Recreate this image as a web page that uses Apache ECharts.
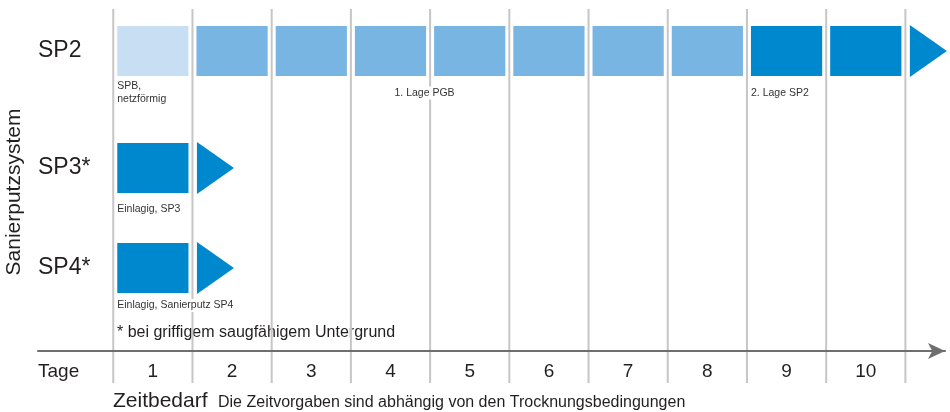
<!DOCTYPE html>
<html>
<head>
<meta charset="utf-8">
<script src="https://cdn.jsdelivr.net/npm/echarts@6/dist/echarts.min.js"></script>
<style>
  html, body { margin: 0; padding: 0; background: #fff; }
  #chart { width: 950px; height: 412px; }
</style>
</head>
<body>
<div id="chart"></div>
<script>
// Daten
var days = [1, 2, 3, 4, 5, 6, 7, 8, 9, 10];
var systems = ['SP2', 'SP3*', 'SP4*'];
// Schicht, die an jedem Tag aufgetragen wird
var sp2Layers = ['SPB', 'PGB', 'PGB', 'PGB', 'PGB', 'PGB', 'PGB', 'PGB', 'SP2', 'SP2'];
var sp3Layers = ['SP3'];
var sp4Layers = ['SP4'];
// Beschriftungen unter den Balken: [Position in Tagen, Text]
var sp2Notes = [[0, 'SPB,\nnetzförmig'], [3.5, '1. Lage PGB'], [8, '2. Lage SP2']];
var sp3Notes = [[0, 'Einlagig, SP3']];
var sp4Notes = [[0, 'Einlagig, Sanierputz SP4']];
var footnote = '* bei griffigem saugfähigem Untergrund';
var axisName = 'Tage';
var yName = 'Sanierputzsystem';
var caption = 'Zeitbedarf';
var captionNote = 'Die Zeitvorgaben sind abhängig von den Trocknungsbedingungen';

// Stil
var font = '"Liberation Sans", Arial, Helvetica, sans-serif';
var textColor = '#231f20';
var layerColors = { SPB: '#c8def2', PGB: '#79b5e3', SP2: '#0088cf', SP3: '#0088cf', SP4: '#0088cf' };
var arrowColor = '#0088cf';
var X_MIN = -0.95, X_MAX = 10.5;

var rows = [
    { name: systems[0], layers: sp2Layers, notes: sp2Notes, top: 26, noteGap: 17 },
    { name: systems[1], layers: sp3Layers, notes: sp3Notes, top: 143, noteGap: 16.5 },
    { name: systems[2], layers: sp4Layers, notes: sp4Notes, top: 243, noteGap: 12.5 }
];

var grids = [{ left: 38, right: 5, top: 9, bottom: 29 }];
var xAxes = [{ gridIndex: 0, type: 'value', min: X_MIN, max: X_MAX, show: false }];
var yAxes = [{ gridIndex: 0, type: 'value', min: 0, max: 1, show: false }];
var series = [];

// senkrechte Tageslinien
series.push({
    type: 'custom',
    xAxisIndex: 0,
    yAxisIndex: 0,
    z: 1,
    silent: true,
    data: [0].concat(days).map(function (d) { return [d, 0]; }),
    renderItem: function (params, api) {
        var top = api.coord([api.value(0), 1]);
        var bottom = api.coord([api.value(0), 0]);
        return {
            type: 'line',
            shape: { x1: top[0], y1: top[1], x2: bottom[0], y2: bottom[1] },
            style: { stroke: '#c6c6c6', lineWidth: 2 }
        };
    }
});

rows.forEach(function (row, r) {
    var gi = r + 1;
    grids.push({ left: 38, right: 5, top: row.top, height: 50 });
    xAxes.push({ gridIndex: gi, type: 'value', min: X_MIN, max: X_MAX, show: false });
    yAxes.push({
        gridIndex: gi,
        type: 'category',
        data: [row.name],
        axisLine: { show: false },
        axisTick: { show: false },
        splitLine: { show: false },
        axisLabel: { inside: true, margin: 0, fontSize: 23, color: textColor, fontFamily: font }
    });

    var cells = row.layers.map(function (l, i) { return [i + 1, 0]; });
    cells.push([row.layers.length + 1, 0]); // Pfeil
    series.push({
        type: 'custom',
        xAxisIndex: gi,
        yAxisIndex: gi,
        z: 3,
        silent: true,
        data: cells,
        renderItem: function (params, api) {
            var day = api.value(0);
            var left = api.coord([day - 1, 0])[0];
            var right = api.coord([day, 0])[0];
            var cy = api.coord([day, 0])[1];
            var h = api.size([0, 1])[1];
            var layer = row.layers[params.dataIndex];
            if (!layer) {
                return {
                    type: 'polygon',
                    shape: { points: [[left + 4.5, cy - 26], [left + 41.5, cy], [left + 4.5, cy + 26]] },
                    style: { fill: arrowColor }
                };
            }
            return {
                type: 'rect',
                shape: { x: left + 4, y: cy - h / 2, width: right - left - 8, height: h },
                style: { fill: layerColors[layer] }
            };
        }
    });

    series.push({
        type: 'custom',
        xAxisIndex: gi,
        yAxisIndex: gi,
        z: 4,
        silent: true,
        data: row.notes.map(function (n) { return [n[0], 0]; }),
        renderItem: function (params, api) {
            var p = api.coord([api.value(0), 0]);
            var h = api.size([0, 1])[1];
            return {
                type: 'text',
                style: {
                    text: row.notes[params.dataIndex][1],
                    x: p[0] + 4,
                    y: p[1] + h / 2 + row.noteGap,
                    align: 'left',
                    verticalAlign: 'middle',
                    fontSize: 10.5,
                    lineHeight: 13,
                    fontFamily: font,
                    fill: '#333',
                    backgroundColor: '#fff'
                }
            };
        }
    });
});

// Zeitachse
grids.push({ left: 38, right: 5, top: 300, bottom: 61 });
xAxes.push({
    gridIndex: 4,
    type: 'value',
    min: X_MIN,
    max: X_MAX,
    z: 5,
    axisLine: {
        show: true,
        symbol: ['none', 'arrow'],
        symbolSize: [12, 17],
        symbolOffset: [0, 0],
        lineStyle: { color: '#6e6e6e', width: 2 }
    },
    axisTick: { show: false },
    splitLine: { show: false },
    axisLabel: {
        customValues: days.map(function (d) { return d - 0.5; }),
        formatter: function (v) { return String(Math.round(v + 0.5)); },
        fontSize: 19,
        margin: 11,
        color: textColor,
        fontFamily: font
    }
});
yAxes.push({ gridIndex: 4, type: 'value', min: 0, max: 1, show: false });

var option = {
    animation: false,
    backgroundColor: '#fff',
    grid: grids,
    xAxis: xAxes,
    yAxis: yAxes,
    series: series,
    graphic: [
        {
            type: 'text', x: 14.5, y: 192, rotation: Math.PI / 2,
            style: { text: yName, align: 'center', verticalAlign: 'middle', fontSize: 21, fill: textColor, fontFamily: font }
        },
        {
            type: 'text', x: 38, y: 372,
            style: { text: axisName, verticalAlign: 'middle', fontSize: 19, fill: textColor, fontFamily: font }
        },
        {
            type: 'text', x: 117, y: 333,
            style: { text: footnote, verticalAlign: 'middle', fontSize: 16, fill: textColor, fontFamily: font }
        },
        {
            type: 'text', x: 113, y: 401,
            style: { text: caption, verticalAlign: 'middle', fontSize: 21, fill: textColor, fontFamily: font }
        },
        {
            type: 'text', x: 218, y: 403,
            style: { text: captionNote, verticalAlign: 'middle', fontSize: 16, fill: textColor, fontFamily: font }
        }
    ]
};

var myChart = echarts.init(document.getElementById('chart'));
myChart.setOption(option);
</script>
</body>
</html>
